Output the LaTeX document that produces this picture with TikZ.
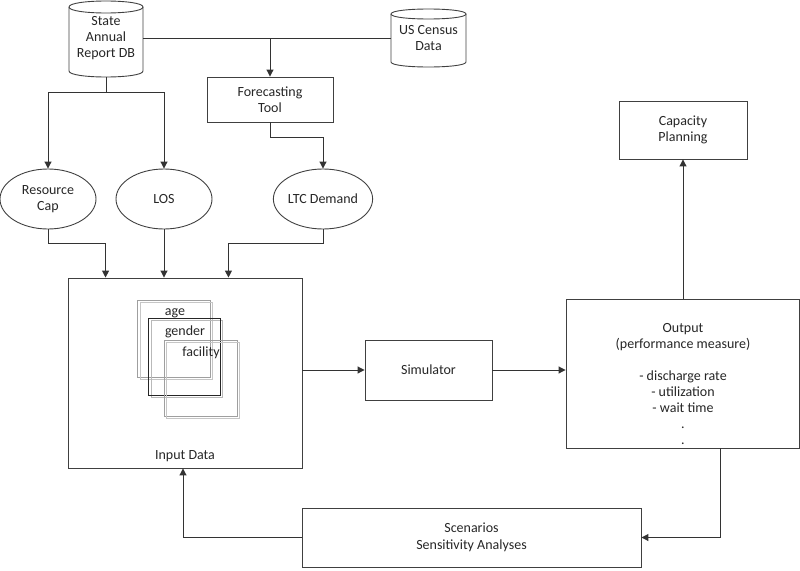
\documentclass[tikz,border=0pt]{standalone}
\usepackage{fontspec}
\setmainfont{Carlito}
\usetikzlibrary{arrows.meta,shapes.geometric,calc}
\begin{document}
\begin{tikzpicture}[x=1pt,y=-1pt,
  every node/.style={font=\fontsize{14}{16}\selectfont, text=black!85, align=center, inner sep=0pt},
  ln/.style={draw=black!80, line width=1pt},
  arr/.style={ln, -{Triangle[length=7pt,width=7pt]}},
  box/.style={draw=black!75, line width=0.9pt, rectangle},
  oval/.style={draw=black!75, line width=0.9pt, ellipse, minimum width=96pt, minimum height=60pt},
  cyl/.style={draw=black!75, line width=0.9pt},
  sqa/.style={draw=gray!75, line width=0.8pt},
  sqb/.style={draw=gray!45, line width=0.8pt}
]
\useasboundingbox (0,0) rectangle (800,570);

% cylinders
\draw[cyl] (69,7) -- (69,71) .. controls (69,79) and (143,79) .. (143,71) -- (143,7);
\draw[cyl] (69,7) .. controls (69,-1) and (143,-1) .. (143,7) .. controls (143,15) and (69,15) .. (69,7);
\draw[cyl] (391,14) -- (391,62) .. controls (391,68.67) and (466,68.67) .. (466,62) -- (466,14);
\draw[cyl] (391,14) .. controls (391,7.33) and (466,7.33) .. (466,14) .. controls (466,20.67) and (391,20.67) .. (391,14);

\node[minimum width=74pt, minimum height=78pt] (db1) at (106,38) {State\\Annual\\Report DB};
\node[minimum width=75pt, minimum height=58pt] (census) at (428.5,38) {US Census\\Data};

\node[box, minimum width=126pt, minimum height=45pt] (fc) at (270,99.5) {Forecasting\\Tool};

\node[oval] (rc) at (48,199) {Resource\\Cap};
\node[oval] (los) at (164,199) {LOS};
\node[oval] (ltc) at (323,199) {LTC Demand};

\node[box, minimum width=234pt, minimum height=190pt] (inp) at (185,373) {};
\node (inlab) at (185,456) {Input Data};

% stacked squares
\draw[sqa] (137,300) rectangle (210,377);
\draw[sqb] (140,302) rectangle (212,379);
\draw[draw=gray!55, line width=0.8pt] (151,320) rectangle (222,397);
\draw[draw=black!85, line width=0.9pt] (148,318) rectangle (220,395);
\draw[sqa] (164,340) rectangle (237,416);
\draw[sqb] (166,342) rectangle (239,418);
\node (age) at (175,313) {age};
\node (gender) at (185,332) {gender};
\node (facility) at (201,353) {facility};

\node[box, minimum width=127pt, minimum height=60pt] (sim) at (428.5,370) {Simulator};
\node[box, minimum width=233pt, minimum height=149pt] (out) at (682.5,373.5) {};
\node (outtxt) at (683,384.5) {Output\\(performance measure)\\[16pt]- discharge rate\\- utilization\\- wait time\\.\\.};
\node[box, minimum width=128pt, minimum height=58pt] (cap) at (683,130) {Capacity\\Planning};
\node[box, minimum width=339pt, minimum height=59pt] (scn) at (471.5,537.5) {Scenarios\\[1pt]Sensitivity Analyses};

% connectors
\draw[ln] (db1.east) -- (census.west);
\coordinate (j1) at (fc.north |- db1.east);
\draw[arr] (j1) -- (fc.north);
\draw[ln] (db1.south) -- ++(0,15) coordinate (j2);
\draw[arr] (j2) -| (rc.north);
\draw[arr] (j2) -| (los.north);
\draw[arr] (fc.south) -- ++(0,15) -| (ltc.north);

\draw[arr] (rc.south) -- ++(0,14) -| ([xshift=38pt]inp.north west);
\draw[arr] (los.south) -- (los.south |- inp.north);
\draw[arr] (ltc.south) -- ++(0,14) -| ([xshift=-74pt]inp.north east);

\draw[arr] (sim.west -| inp.east) -- (sim.west);
\draw[arr] (sim.east) -- (sim.east -| out.west);
\draw[arr] (cap.south |- out.north) -- (cap.south);
\draw[arr] ([xshift=37.5pt]out.south) |- (scn.east);
\draw[arr] (scn.west) -| ([xshift=-2pt]inp.south);
\end{tikzpicture}
\end{document}
